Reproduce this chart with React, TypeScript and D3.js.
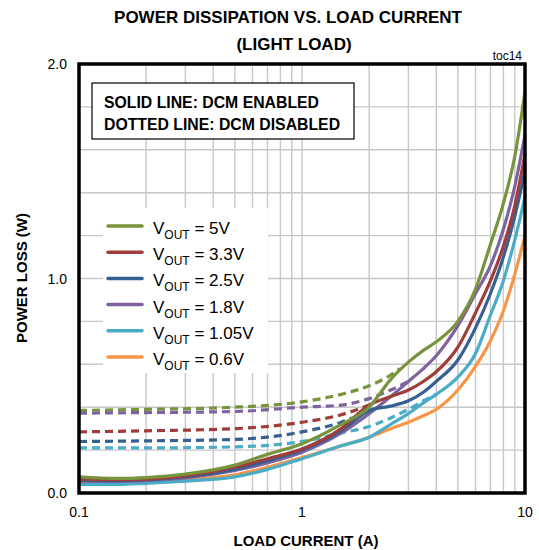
import * as d3 from 'd3';
import React from 'react';

// load current grid (A) shared by the solid (DCM enabled) curves
const loadCurrent = [0.1, 0.15, 0.2, 0.3, 0.5, 0.7, 1, 1.5, 2, 2.5, 3, 3.5, 4, 5, 6, 7, 8, 9, 10];

const solid5V = [0.075, 0.068, 0.072, 0.088, 0.13, 0.18, 0.23, 0.32, 0.4, 0.53, 0.61, 0.665, 0.705, 0.8, 0.95, 1.16, 1.35, 1.57, 1.87];
const solid3V3 = [0.065, 0.062, 0.065, 0.08, 0.12, 0.16, 0.205, 0.3, 0.41, 0.45, 0.48, 0.52, 0.565, 0.68, 0.84, 0.99, 1.15, 1.34, 1.58];
const solid2V5 = [0.06, 0.058, 0.062, 0.075, 0.11, 0.15, 0.2, 0.29, 0.385, 0.405, 0.43, 0.47, 0.52, 0.62, 0.77, 0.93, 1.1, 1.29, 1.5];
const solid1V8 = [0.055, 0.054, 0.058, 0.07, 0.105, 0.14, 0.19, 0.28, 0.37, 0.45, 0.52, 0.58, 0.64, 0.78, 0.93, 1.06, 1.23, 1.43, 1.67];
const solid1V05 = [0.04, 0.04, 0.045, 0.055, 0.075, 0.11, 0.16, 0.22, 0.26, 0.32, 0.37, 0.42, 0.46, 0.54, 0.65, 0.83, 0.99, 1.18, 1.38];
const solid0V6 = [0.045, 0.045, 0.05, 0.06, 0.085, 0.12, 0.165, 0.22, 0.26, 0.3, 0.33, 0.36, 0.39, 0.48, 0.59, 0.71, 0.85, 1.02, 1.2];

// dotted (DCM disabled) curves stop where they join the solid ones
const dashedX5V = [0.1, 0.2, 0.5, 1, 1.5, 2, 2.5, 2.75];
const dashed5V = [0.385, 0.39, 0.4, 0.425, 0.46, 0.5, 0.55, 0.58];
const dashedX3V3 = [0.1, 0.2, 0.5, 1, 1.5, 2];
const dashed3V3 = [0.285, 0.29, 0.3, 0.33, 0.365, 0.41];
const dashedX2V5 = [0.1, 0.2, 0.5, 1, 1.5, 2];
const dashed2V5 = [0.24, 0.243, 0.25, 0.285, 0.33, 0.385];
const dashedX1V8 = [0.1, 0.2, 0.5, 1, 1.5, 2, 2.5, 3];
const dashed1V8 = [0.372, 0.375, 0.38, 0.4, 0.41, 0.44, 0.48, 0.52];
const dashedX1V05 = [0.1, 0.2, 0.5, 1, 1.5, 2, 2.5, 3, 3.5, 4];
const dashed1V05 = [0.21, 0.21, 0.215, 0.24, 0.28, 0.31, 0.35, 0.39, 0.43, 0.46];

const vout = ['5V', '3.3V', '2.5V', '1.8V', '1.05V', '0.6V'];
const colours = ['#77933C', '#9E3D3A', '#376092', '#7F63A1', '#4BACC6', '#F79646'];

const xTicks = [0.1, 1, 10];
const yTicks = [0, 1, 2];

const W = 539;
const H = 550;
const left = 79, right = 525, top = 64, bottom = 493;

export default function App() {
  const x = d3.scaleLog().domain([0.1, 10]).range([left, right]);
  const y = d3.scaleLinear().domain([0, 2]).range([bottom, top]);

  const line = d3.line<[number, number]>()
    .x(d => x(d[0]))
    .y(d => y(d[1]))
    .curve(d3.curveMonotoneX);

  const solids = [solid5V, solid3V3, solid2V5, solid1V8, solid1V05, solid0V6];
  const dashed = [
    [dashedX5V, dashed5V, 0],
    [dashedX3V3, dashed3V3, 1],
    [dashedX2V5, dashed2V5, 2],
    [dashedX1V8, dashed1V8, 3],
    [dashedX1V05, dashed1V05, 4],
  ] as [number[], number[], number][];

  // minor log gridlines 0.2..0.9, 1..9
  const vGrid: number[] = [];
  [0.1, 1].forEach(dec => {
    for (let k = 2; k <= 10; k++) vGrid.push(dec * k);
  });
  const hGrid = d3.range(1, 10).map(i => i * 0.2);

  const font = 'Arial, "Liberation Sans", sans-serif';

  return (
    <svg width={W} height={H} style={{position: 'absolute', left: 0, top: 0}} fontFamily={font}>
      <rect width={W} height={H} fill="#fff" />

      <text x={288} y={23} textAnchor="middle" fontWeight="bold" fontSize={17}>POWER DISSIPATION VS. LOAD CURRENT</text>
      <text x={294} y={50} textAnchor="middle" fontWeight="bold" fontSize={17}>(LIGHT LOAD)</text>
      <text x={522} y={60} textAnchor="end" fontSize={12}>toc14</text>

      {/* grid */}
      {vGrid.filter(v => v < 10).map(v => (
        <line key={'v' + v} x1={x(v)} x2={x(v)} y1={top} y2={bottom} stroke="#C8C8C8" strokeWidth={1.4} />
      ))}
      {hGrid.map(v => (
        <line key={'h' + v} x1={left} x2={right} y1={y(v)} y2={y(v)} stroke="#C8C8C8" strokeWidth={1.4} />
      ))}

      {/* annotation box */}
      <rect x={92} y={83} width={262} height={56} fill="#fff" stroke="#000" strokeWidth={1.2} />
      <text x={104} y={108} fontWeight="bold" fontSize={15.8}>SOLID LINE: DCM ENABLED</text>
      <text x={104} y={130} fontWeight="bold" fontSize={15.8}>DOTTED LINE: DCM DISABLED</text>

      {/* legend */}
      <rect x={103} y={208} width={165} height={165} fill="#fff" />
      {vout.map((v, i) => {
        const ly = 226 + i * 26.2;
        return (
          <g key={v}>
            <line x1={108} x2={142} y1={ly} y2={ly} stroke={colours[i]} strokeWidth={3.5} strokeLinecap="round" />
            <text x={153} y={ly + 8} fontSize={17}>
              V<tspan fontSize={12} dy={5}>OUT</tspan><tspan dy={-5}> = {v}</tspan>
            </text>
          </g>
        );
      })}

      {/* dotted curves */}
      {dashed.map(([xs, ys, i]) => (
        <path key={'d' + i}
              d={line(xs.map((xv, j) => [xv, ys[j]] as [number, number])) || ''}
              fill="none" stroke={colours[i]} strokeWidth={3.2} strokeDasharray="8,5" />
      ))}

      {/* solid curves */}
      {solids.map((ys, i) => (
        <path key={'s' + i}
              d={line(loadCurrent.map((xv, j) => [xv, ys[j]] as [number, number])) || ''}
              fill="none" stroke={colours[i]} strokeWidth={3.2} />
      )).reverse()}

      {/* frame */}
      <rect x={left} y={top} width={right - left} height={bottom - top} fill="none" stroke="#000" strokeWidth={3.5} />

      {xTicks.map(t => (
        <text key={'xt' + t} x={x(t)} y={517} textAnchor="middle" fontSize={14}>{t}</text>
      ))}
      {yTicks.map(t => (
        <text key={'yt' + t} x={67} y={y(t) + 5} textAnchor="end" fontSize={14}>{t.toFixed(1)}</text>
      ))}

      <text x={306} y={546} textAnchor="middle" fontWeight="bold" fontSize={15}>LOAD CURRENT (A)</text>
      <text transform={`translate(27,${278}) rotate(-90)`} textAnchor="middle" fontWeight="bold" fontSize={15}>POWER LOSS (W)</text>
    </svg>
  );
}
